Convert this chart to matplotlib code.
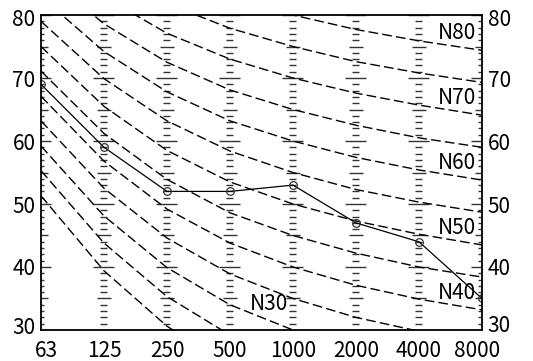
import numpy as np
import matplotlib
matplotlib.use("Agg")
import matplotlib.pyplot as plt
from matplotlib.transforms import ScaledTranslation

plt.rcParams['font.family'] = ['Noto Sans CJK JP', 'DejaVu Sans']

bands = ["63", "125", "250", "500", "1000", "2000", "4000", "8000"]
measured = [69, 59, 52, 52, 53, 47, 44, 35]

# N curves, level at each octave band
n_levels = [20, 25, 30, 35, 40, 45, 50, 55, 60, 65, 70, 75, 80]
n_curves = [
    [51.3, 39.4, 30.6, 24.3, 20.0, 16.8, 14.4, 12.6],
    [55.3, 43.8, 35.3, 29.2, 25.0, 21.9, 19.5, 17.8],
    [59.2, 48.1, 39.9, 34.0, 30.0, 27.0, 24.7, 22.9],
    [63.2, 52.5, 44.6, 38.9, 35.0, 32.0, 29.8, 28.1],
    [67.1, 56.8, 49.2, 43.8, 40.0, 37.1, 34.9, 33.2],
    [71.1, 61.2, 53.9, 48.6, 45.0, 42.2, 40.0, 38.4],
    [75.0, 65.5, 58.5, 53.5, 50.0, 47.3, 45.2, 43.5],
    [79.0, 69.9, 63.2, 58.4, 55.0, 52.3, 50.3, 48.7],
    [82.9, 74.2, 67.8, 63.2, 60.0, 57.4, 55.4, 53.8],
    [86.9, 78.6, 72.5, 68.1, 65.0, 62.5, 60.5, 59.0],
    [90.8, 82.9, 77.1, 73.0, 70.0, 67.6, 65.7, 64.1],
    [94.8, 87.3, 81.8, 77.9, 75.0, 72.6, 70.8, 69.3],
    [98.7, 91.6, 86.4, 82.7, 80.0, 77.7, 75.9, 74.4],
]
right_labels = [40, 50, 60, 70, 80]

fig = plt.figure(figsize=(5.33, 3.61), dpi=100)
ax = fig.add_axes([0.0769, 0.0859, 0.8274, 0.8725])
x = np.arange(len(bands))

# scale marks on every band column
px = 1 / 63.0
for xi in x:
    for db in range(30, 81):
        if db % 10 == 0:
            hw = 10.5 * px
        elif db % 5 == 0:
            hw = 7 * px
        else:
            hw = 3.5 * px
        ax.hlines(db, xi - hw, xi + hw, color='#333333', lw=1.0)

for n, c in zip(n_levels, n_curves):
    ax.plot(x, c, color='black', lw=1.0, dashes=(7, 3))
    if n in right_labels:
        ax.text(6.9, c[-1] + 2.7, "N%d" % n, ha='right', va='center', fontsize=15)
ax.text(3.92, n_curves[2][3] + 0.1, "N30", ha='right', va='center', fontsize=15)

ax.plot(x, measured, color='black', lw=0.9, marker='o', markersize=5.5,
        markerfacecolor='none', markeredgecolor='#333333', markeredgewidth=0.9)

ax.set_xlim(0, 7)
ax.set_ylim(30, 80)
ax.set_xticks(x)
ax.set_xticklabels(bands)
ax.set_yticks([30, 40, 50, 60, 70, 80])
ax.tick_params(axis='both', length=0, labelsize=15)
ax.tick_params(axis='x', pad=7)
ax.tick_params(axis='y', pad=4, labelright=True)
for s in ax.spines.values():
    s.set_linewidth(1.3)

def shift(label, dx, dy):
    label.set_transform(label.get_transform() + ScaledTranslation(dx / 100, dy / 100, fig.dpi_scale_trans))

xt = ax.xaxis.get_major_ticks()
shift(xt[0].label1, 5, 0)
shift(xt[-1].label1, -5, 0)
yt = ax.yaxis.get_major_ticks()
shift(yt[0].label1, 0, 4)
shift(yt[0].label2, 0, 6)
shift(yt[-1].label1, 0, -2)
shift(yt[-1].label2, 0, -2)

fig.savefig("out.png", dpi=100)
